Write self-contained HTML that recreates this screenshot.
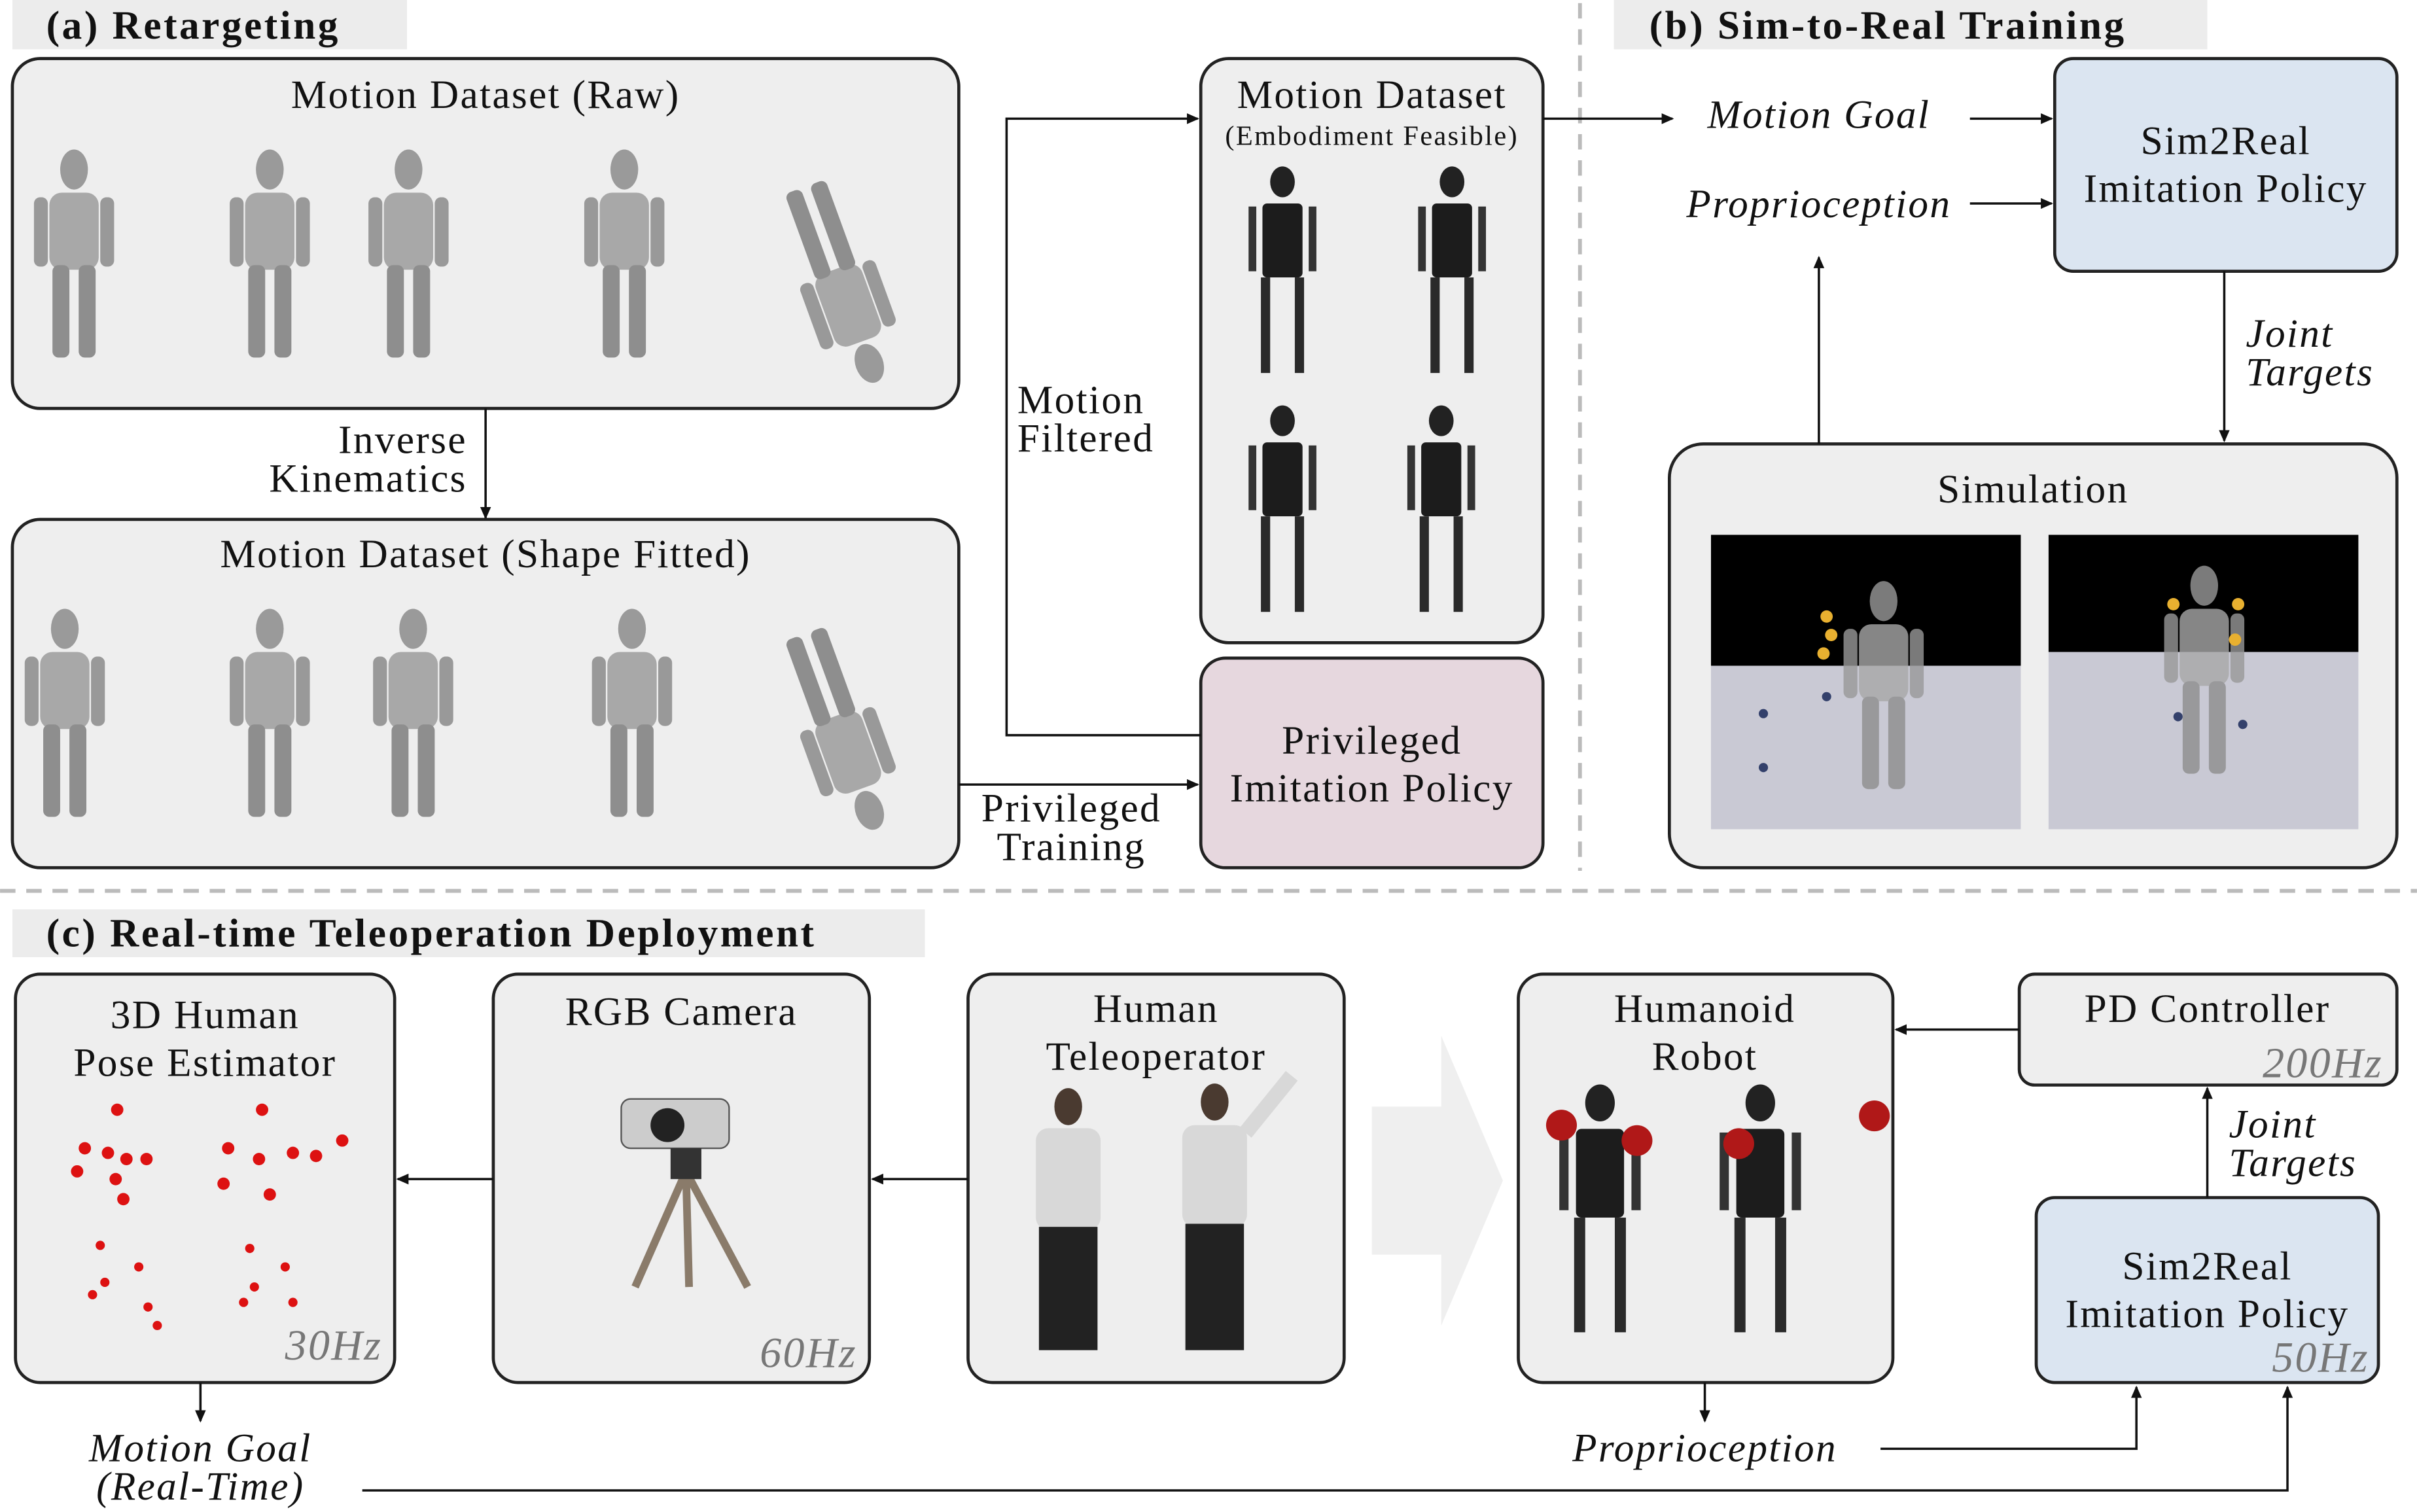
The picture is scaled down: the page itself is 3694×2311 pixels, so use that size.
<!DOCTYPE html>
<html><head><meta charset="utf-8"><style>
html,body{margin:0;padding:0;background:#fff}
svg{display:block}
text{font-family:"Liberation Serif",serif;fill:#111;letter-spacing:1px}
.b{font-weight:bold;letter-spacing:1.5px}
.i{font-style:italic}
.hz{font-style:italic;fill:#777}
</style></head><body>
<svg width="3694" height="2311" viewBox="0 0 1568 981" xmlns="http://www.w3.org/2000/svg">
<defs>
<marker id="ah" markerWidth="8" markerHeight="8" refX="7" refY="4" orient="auto" markerUnits="userSpaceOnUse"><path d="M0,0.5 L8,4 L0,7.5 z" fill="#111"/></marker>
<g id="human"><ellipse cx="0" cy="-70" rx="9" ry="13" fill="#9a9a9a"/><rect x="-16" y="-55" width="32" height="50" rx="8" fill="#a8a8a8"/><rect x="-14" y="-8" width="11" height="60" rx="4" fill="#8e8e8e"/><rect x="3" y="-8" width="11" height="60" rx="4" fill="#8e8e8e"/><rect x="-26" y="-52" width="9" height="45" rx="4" fill="#999"/><rect x="17" y="-52" width="9" height="45" rx="4" fill="#999"/></g>
<g id="robot"><ellipse cx="0" cy="-72" rx="8" ry="10" fill="#222"/><rect x="-13" y="-58" width="26" height="48" rx="3" fill="#1c1c1c"/><rect x="-14" y="-10" width="6" height="62" fill="#2a2a2a"/><rect x="8" y="-10" width="6" height="62" fill="#2a2a2a"/><rect x="-22" y="-56" width="5" height="42" fill="#333"/><rect x="17" y="-56" width="5" height="42" fill="#333"/></g>
</defs>

<!-- (a) -->
<rect x="8" y="0" width="256" height="32" fill="#ececec"/>
<text x="30" y="25" font-size="26" class="b">(a) Retargeting</text>

<g>
<rect x="8" y="38" width="614" height="227" rx="18" fill="#eeeeee" stroke="#222" stroke-width="2"/>
<text x="315" y="70" font-size="26" text-anchor="middle">Motion Dataset (Raw)</text>
<use href="#human" x="48" y="180"/><use href="#human" x="175" y="180"/><use href="#human" x="265" y="180"/><use href="#human" x="405" y="180"/>
<g transform="translate(540,170) rotate(160)"><use href="#human" x="0" y="0"/></g>
</g>
<text font-size="26" text-anchor="end"><tspan x="303" y="294">Inverse</tspan><tspan x="303" y="319">Kinematics</tspan></text>
<line x1="315" y1="265" x2="315" y2="336" stroke="#111" stroke-width="1.5" marker-end="url(#ah)"/>

<g>
<rect x="8" y="337" width="614" height="226" rx="18" fill="#eeeeee" stroke="#222" stroke-width="2"/>
<text x="315" y="368" font-size="26" text-anchor="middle">Motion Dataset (Shape Fitted)</text>
<use href="#human" x="42" y="478"/><use href="#human" x="175" y="478"/><use href="#human" x="268" y="478"/><use href="#human" x="410" y="478"/>
<g transform="translate(540,460) rotate(160)"><use href="#human" x="0" y="0"/></g>
</g>

<g>
<rect x="779" y="38" width="222" height="379" rx="18" fill="#eeeeee" stroke="#222" stroke-width="2"/>
<text x="890" y="70" font-size="26" text-anchor="middle">Motion Dataset</text>
<text x="890" y="94" font-size="18" text-anchor="middle">(Embodiment Feasible)</text>
<use href="#robot" x="832" y="190"/><use href="#robot" x="942" y="190"/><use href="#robot" x="832" y="345"/><use href="#robot" x="935" y="345"/>
</g>

<g>
<rect x="779" y="427" width="222" height="136" rx="16" fill="#e6d7de" stroke="#222" stroke-width="2"/>
<text x="890" y="489" font-size="26" text-anchor="middle">Privileged</text>
<text x="890" y="520" font-size="26" text-anchor="middle">Imitation Policy</text>
</g>

<polyline points="779,477 653,477 653,77 777,77" fill="none" stroke="#111" stroke-width="1.5" marker-end="url(#ah)"/>
<text font-size="26"><tspan x="660" y="268">Motion</tspan><tspan x="660" y="293">Filtered</tspan></text>
<line x1="622" y1="509" x2="777" y2="509" stroke="#111" stroke-width="1.5" marker-end="url(#ah)"/>
<text font-size="26" text-anchor="middle"><tspan x="695" y="533">Privileged</tspan><tspan x="695" y="558">Training</tspan></text>

<line x1="1025" y1="2" x2="1025" y2="565" stroke="#bbb" stroke-width="2.5" stroke-dasharray="10,7"/>
<line x1="0" y1="578" x2="1568" y2="578" stroke="#bbb" stroke-width="2.5" stroke-dasharray="10,7"/>

<!-- (b) -->
<rect x="1047" y="0" width="385" height="32" fill="#ececec"/>
<text x="1070" y="25" font-size="26" class="b">(b) Sim-to-Real Training</text>
<line x1="1001" y1="77" x2="1085" y2="77" stroke="#111" stroke-width="1.5" marker-end="url(#ah)"/>
<text x="1180" y="83" font-size="26" class="i" text-anchor="middle">Motion Goal</text>
<line x1="1278" y1="77" x2="1331" y2="77" stroke="#111" stroke-width="1.5" marker-end="url(#ah)"/>
<text x="1180" y="141" font-size="26" class="i" text-anchor="middle">Proprioception</text>
<line x1="1278" y1="132" x2="1331" y2="132" stroke="#111" stroke-width="1.5" marker-end="url(#ah)"/>
<g>
<rect x="1333" y="38" width="222" height="138" rx="12" fill="#dbe5f1" stroke="#222" stroke-width="2"/>
<text x="1444" y="100" font-size="26" text-anchor="middle">Sim2Real</text>
<text x="1444" y="131" font-size="26" text-anchor="middle">Imitation Policy</text>
</g>
<line x1="1443" y1="176" x2="1443" y2="286" stroke="#111" stroke-width="1.5" marker-end="url(#ah)"/>
<text font-size="26" class="i"><tspan x="1457" y="225">Joint</tspan><tspan x="1457" y="250">Targets</tspan></text>
<g>
<rect x="1083" y="288" width="472" height="275" rx="22" fill="#eeeeee" stroke="#222" stroke-width="2"/>
<text x="1319" y="326" font-size="26" text-anchor="middle">Simulation</text>
<rect x="1110" y="347" width="201" height="85" fill="#000"/><rect x="1110" y="432" width="201" height="106" fill="#c9c9d4"/>
<rect x="1329" y="347" width="201" height="76" fill="#000"/><rect x="1329" y="423" width="201" height="115" fill="#c9c9d4"/>
<use href="#human" x="1222" y="460" opacity="0.8"/><use href="#human" x="1430" y="450" opacity="0.8"/>
<circle cx="1185" cy="400" r="4" fill="#e8b030"/><circle cx="1188" cy="412" r="4" fill="#e8b030"/><circle cx="1183" cy="424" r="4" fill="#e8b030"/><circle cx="1144" cy="463" r="3" fill="#33406b"/><circle cx="1144" cy="498" r="3" fill="#33406b"/><circle cx="1185" cy="452" r="3" fill="#33406b"/>
<circle cx="1410" cy="392" r="4" fill="#e8b030"/><circle cx="1452" cy="392" r="4" fill="#e8b030"/><circle cx="1450" cy="415" r="4" fill="#e8b030"/><circle cx="1413" cy="465" r="3" fill="#33406b"/><circle cx="1455" cy="470" r="3" fill="#33406b"/>
</g>
<line x1="1180" y1="288" x2="1180" y2="167" stroke="#111" stroke-width="1.5" marker-end="url(#ah)"/>

<!-- (c) -->
<rect x="8" y="590" width="592" height="31" fill="#ececec"/>
<text x="30" y="614" font-size="26" class="b">(c) Real-time Teleoperation Deployment</text>

<g>
<rect x="10" y="632" width="246" height="265" rx="16" fill="#eeeeee" stroke="#222" stroke-width="2"/>
<text x="133" y="667" font-size="26" text-anchor="middle">3D Human</text>
<text x="133" y="698" font-size="26" text-anchor="middle">Pose Estimator</text>
<g fill="#d11">
<circle cx="76" cy="720" r="4"/><circle cx="55" cy="745" r="4"/><circle cx="50" cy="760" r="4"/><circle cx="70" cy="748" r="4"/><circle cx="82" cy="752" r="4"/><circle cx="95" cy="752" r="4"/><circle cx="75" cy="765" r="4"/><circle cx="80" cy="778" r="4"/><circle cx="65" cy="808" r="3"/><circle cx="90" cy="822" r="3"/><circle cx="60" cy="840" r="3"/><circle cx="96" cy="848" r="3"/><circle cx="102" cy="860" r="3"/><circle cx="68" cy="832" r="3"/>
<circle cx="170" cy="720" r="4"/><circle cx="148" cy="745" r="4"/><circle cx="145" cy="768" r="4"/><circle cx="168" cy="752" r="4"/><circle cx="190" cy="748" r="4"/><circle cx="205" cy="750" r="4"/><circle cx="222" cy="740" r="4"/><circle cx="175" cy="775" r="4"/><circle cx="162" cy="810" r="3"/><circle cx="185" cy="822" r="3"/><circle cx="158" cy="845" r="3"/><circle cx="190" cy="845" r="3"/><circle cx="165" cy="835" r="3"/>
</g>
<text x="248" y="882" font-size="28" class="hz" text-anchor="end">30Hz</text>
</g>
<g>
<rect x="320" y="632" width="244" height="265" rx="16" fill="#eeeeee" stroke="#222" stroke-width="2"/>
<text x="442" y="665" font-size="26" text-anchor="middle">RGB Camera</text>
<rect x="403" y="713" width="70" height="32" rx="6" fill="#ccc" stroke="#555"/><circle cx="433" cy="730" r="11" fill="#222"/>
<line x1="445" y1="760" x2="412" y2="835" stroke="#8a7b6a" stroke-width="5"/><line x1="445" y1="760" x2="485" y2="835" stroke="#8a7b6a" stroke-width="5"/><line x1="445" y1="760" x2="447" y2="835" stroke="#8a7b6a" stroke-width="5"/><rect x="435" y="745" width="20" height="20" fill="#333"/>
<text x="556" y="887" font-size="28" class="hz" text-anchor="end">60Hz</text>
</g>
<g>
<rect x="628" y="632" width="244" height="265" rx="16" fill="#eeeeee" stroke="#222" stroke-width="2"/>
<text x="750" y="663" font-size="26" text-anchor="middle">Human</text>
<text x="750" y="694" font-size="26" text-anchor="middle">Teleoperator</text>
<ellipse cx="693" cy="718" rx="9" ry="12" fill="#4a3a30"/><rect x="672" y="732" width="42" height="66" rx="8" fill="#d8d8d8"/><rect x="674" y="796" width="38" height="80" fill="#222"/>
<ellipse cx="788" cy="715" rx="9" ry="12" fill="#4a3a30"/><rect x="767" y="730" width="42" height="66" rx="8" fill="#d8d8d8"/><rect x="769" y="794" width="38" height="82" fill="#222"/><line x1="808" y1="735" x2="838" y2="698" stroke="#d8d8d8" stroke-width="10"/>
</g>
<path d="M890,718 L935,718 L935,672 L975,766 L935,860 L935,814 L890,814 Z" fill="#efefef"/>
<g>
<rect x="985" y="632" width="243" height="265" rx="16" fill="#eeeeee" stroke="#222" stroke-width="2"/>
<text x="1106" y="663" font-size="26" text-anchor="middle">Humanoid</text>
<text x="1106" y="694" font-size="26" text-anchor="middle">Robot</text>
<g transform="translate(1038,802) scale(1.2)"><use href="#robot"/></g><g transform="translate(1142,802) scale(1.2)"><use href="#robot"/></g>
<circle cx="1013" cy="730" r="10" fill="#b01818"/><circle cx="1062" cy="740" r="10" fill="#b01818"/><circle cx="1128" cy="742" r="10" fill="#b01818"/><circle cx="1216" cy="724" r="10" fill="#b01818"/>
</g>
<g>
<rect x="1310" y="632" width="245" height="72" rx="10" fill="#eeeeee" stroke="#222" stroke-width="2"/>
<text x="1432" y="663" font-size="26" text-anchor="middle">PD Controller</text>
<text x="1546" y="699" font-size="28" class="hz" text-anchor="end">200Hz</text>
</g>
<g>
<rect x="1321" y="777" width="222" height="120" rx="12" fill="#dbe5f1" stroke="#222" stroke-width="2"/>
<text x="1432" y="830" font-size="26" text-anchor="middle">Sim2Real</text>
<text x="1432" y="861" font-size="26" text-anchor="middle">Imitation Policy</text>
<text x="1537" y="890" font-size="28" class="hz" text-anchor="end">50Hz</text>
</g>
<text font-size="26" class="i"><tspan x="1446" y="738">Joint</tspan><tspan x="1446" y="763">Targets</tspan></text>

<line x1="320" y1="765" x2="258" y2="765" stroke="#111" stroke-width="1.5" marker-end="url(#ah)"/>
<line x1="628" y1="765" x2="566" y2="765" stroke="#111" stroke-width="1.5" marker-end="url(#ah)"/>
<line x1="1310" y1="668" x2="1230" y2="668" stroke="#111" stroke-width="1.5" marker-end="url(#ah)"/>
<line x1="1432" y1="777" x2="1432" y2="706" stroke="#111" stroke-width="1.5" marker-end="url(#ah)"/>
<line x1="130" y1="897" x2="130" y2="922" stroke="#111" stroke-width="1.5" marker-end="url(#ah)"/>
<line x1="1106" y1="897" x2="1106" y2="922" stroke="#111" stroke-width="1.5" marker-end="url(#ah)"/>
<text font-size="26" class="i" text-anchor="middle"><tspan x="130" y="948">Motion Goal</tspan><tspan x="130" y="973">(Real-Time)</tspan></text>
<text x="1106" y="948" font-size="26" class="i" text-anchor="middle">Proprioception</text>
<polyline points="1220,940 1386,940 1386,900" fill="none" stroke="#111" stroke-width="1.5" marker-end="url(#ah)"/>
<polyline points="235,967 1484,967 1484,900" fill="none" stroke="#111" stroke-width="1.5" marker-end="url(#ah)"/>
</svg>
</body></html>
